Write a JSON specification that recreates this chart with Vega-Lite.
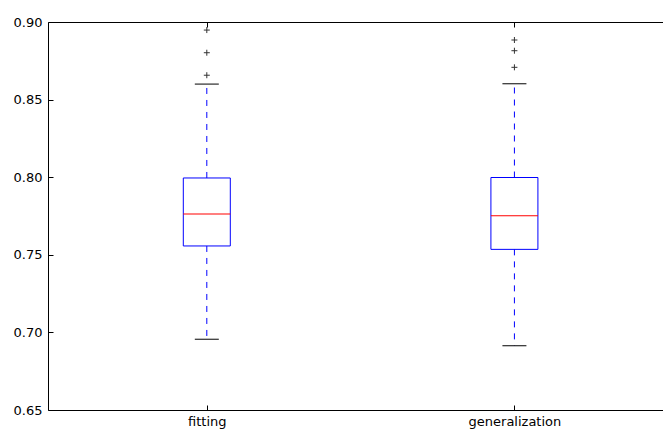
{
  "$schema": "https://vega.github.io/schema/vega-lite/v6.json",
  "width": 616,
  "height": 388,
  "autosize": {"type": "none"},
  "padding": {"left": 48, "top": 22, "right": 0, "bottom": 20},
  "background": "white",
  "config": {
    "view": {"stroke": "black", "strokeWidth": 1},
    "font": "DejaVu Sans",
    "axis": {"labelFont": "DejaVu Sans", "labelFontSize": 13, "labelColor": "black", "grid": false, "domain": false, "tickColor": "black", "title": null}
  },
  "datasets": {
    "boxes": [
      {"group": "fitting", "x": 1, "lower": 0.6956, "q1": 0.7557, "median": 0.7763, "q3": 0.7995, "upper": 0.8600},
      {"group": "generalization", "x": 2, "lower": 0.6914, "q1": 0.7535, "median": 0.7752, "q3": 0.7998, "upper": 0.8602}
    ],
    "outliers": [
      {"group": "fitting", "x": 1, "value": 0.8657},
      {"group": "fitting", "x": 1, "value": 0.8802},
      {"group": "fitting", "x": 1, "value": 0.8948},
      {"group": "generalization", "x": 2, "value": 0.8708},
      {"group": "generalization", "x": 2, "value": 0.8815},
      {"group": "generalization", "x": 2, "value": 0.8884}
    ]
  },
  "resolve": {"axis": {"x": "independent"}},
  "layer": [
    {
      "layer": [
        {
          "data": {"name": "boxes"},
          "mark": {"type": "rule", "color": "#0000ff", "strokeWidth": 1, "strokeDash": [6, 6]},
          "encoding": {
            "x": {"field": "x", "type": "quantitative", "scale": {"domain": [0.5, 2.47], "nice": false, "zero": false},
              "axis": {"values": [1, 2], "labelExpr": "datum.value == 1 ? 'fitting' : 'generalization'", "tickSize": -5, "labelPadding": 10, "labelFlush": false}},
            "y": {"field": "q3", "type": "quantitative", "scale": {"domain": [0.65, 0.9], "nice": false, "zero": false},
              "axis": {"values": [0.65, 0.7, 0.75, 0.8, 0.85, 0.9], "format": ".2f", "tickSize": -5, "labelPadding": 11}},
            "y2": {"field": "upper"}
          }
        },
        {
          "data": {"name": "boxes"},
          "mark": {"type": "rule", "color": "#0000ff", "strokeWidth": 1, "strokeDash": [6, 6]},
          "encoding": {
            "x": {"field": "x", "type": "quantitative"},
            "y": {"field": "q1", "type": "quantitative"},
            "y2": {"field": "lower"}
          }
        },
        {
          "data": {"name": "boxes"},
          "mark": {"type": "bar", "size": 47, "fill": "white", "fillOpacity": 0, "stroke": "#0000ff", "strokeWidth": 1},
          "encoding": {
            "x": {"field": "x", "type": "quantitative"},
            "y": {"field": "q1", "type": "quantitative"},
            "y2": {"field": "q3"}
          }
        },
        {
          "data": {"name": "boxes"},
          "mark": {"type": "tick", "orient": "horizontal", "size": 47, "thickness": 1, "color": "#ff0000", "opacity": 1},
          "encoding": {
            "x": {"field": "x", "type": "quantitative"},
            "y": {"field": "median", "type": "quantitative"}
          }
        },
        {
          "data": {"name": "boxes"},
          "mark": {"type": "tick", "orient": "horizontal", "size": 24, "thickness": 1, "color": "black", "opacity": 1},
          "encoding": {
            "x": {"field": "x", "type": "quantitative"},
            "y": {"field": "upper", "type": "quantitative"}
          }
        },
        {
          "data": {"name": "boxes"},
          "mark": {"type": "tick", "orient": "horizontal", "size": 24, "thickness": 1, "color": "black", "opacity": 1},
          "encoding": {
            "x": {"field": "x", "type": "quantitative"},
            "y": {"field": "lower", "type": "quantitative"}
          }
        },
        {
          "data": {"name": "outliers"},
          "mark": {"type": "point", "shape": "M-1,0L1,0M0,-1L0,1", "size": 36, "filled": false, "stroke": "#333333", "strokeWidth": 1, "opacity": 1},
          "encoding": {
            "x": {"field": "x", "type": "quantitative"},
            "y": {"field": "value", "type": "quantitative"}
          }
        }
      ]
    },
    {
      "data": {"name": "boxes"},
      "mark": {"type": "point", "opacity": 0},
      "encoding": {
        "x": {"field": "x", "type": "quantitative", "axis": {"orient": "top", "labels": false, "values": [1, 2], "tickSize": -5, "domain": false}},
        "y": {"field": "median", "type": "quantitative"}
      }
    }
  ]
}
